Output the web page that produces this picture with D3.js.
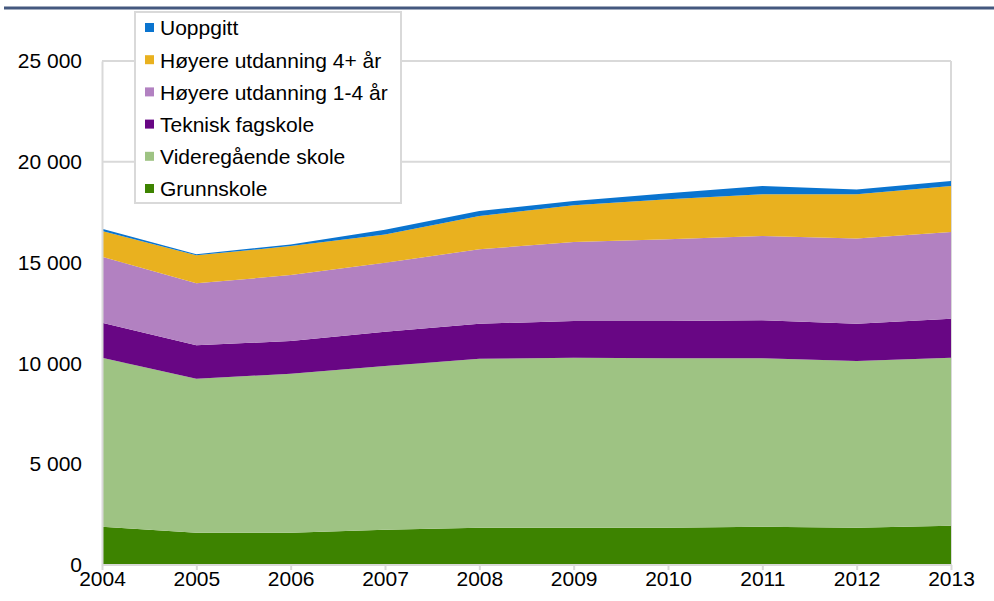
<!DOCTYPE html>
<html>
<head>
<meta charset="utf-8" />
<title>Utdanning</title>
<script src="https://d3js.org/d3.v7.min.js"></script>
<style>
  body { margin: 0; background: #fff; }
  text { font-family: "Liberation Sans", Arial, sans-serif; fill: #000; }
</style>
</head>
<body>
<svg class="chart"></svg>
<script>
var years = [2004, 2005, 2006, 2007, 2008, 2009, 2010, 2011, 2012, 2013];

// values, bottom layer first
var grunnskole     = [1900, 1600, 1600, 1750, 1850, 1850, 1850, 1900, 1850, 1950];
var videregaaende  = [8380, 7640, 7890, 8120, 8380, 8430, 8400, 8350, 8270, 8330];
var teknisk        = [1740, 1660, 1620, 1700, 1740, 1820, 1850, 1885, 1850, 1940];
var hoyere14       = [3270, 3070, 3270, 3425, 3690, 3920, 4055, 4185, 4230, 4300];
var hoyere4        = [1280, 1390, 1440, 1405, 1650, 1820, 1985, 2065, 2185, 2280];
var uoppgitt       = [110, 50, 80, 230, 250, 210, 295, 415, 245, 250];

var seriesNames = ["Grunnskole", "Videregående skole", "Teknisk fagskole",
                   "Høyere utdanning 1-4 år", "Høyere utdanning 4+ år", "Uoppgitt"];
var seriesValues = [grunnskole, videregaaende, teknisk, hoyere14, hoyere4, uoppgitt];
var colors = ["#3d8300", "#9ec383", "#680684", "#b281c1", "#e9b11f", "#0a74cf"];
var yTicks = [0, 5000, 10000, 15000, 20000, 25000];

var svgWidth = 994, svgHeight = 601;
var plot = {left: 102, right: 951, top: 61, bottom: 565};
var fontSize = 21;

var svg = d3.select(".chart")
    .attr("width", svgWidth)
    .attr("height", svgHeight);

// build rows for the stack
var rows = years.map(function (yr, i) {
    var r = {year: yr};
    seriesNames.forEach(function (n, k) { r[n] = seriesValues[k][i]; });
    return r;
});

var layers = d3.stack().keys(seriesNames)(rows);

var x = d3.scaleLinear().domain([2004, 2013]).range([plot.left, plot.right]);
var y = d3.scaleLinear().domain([0, 25000]).range([plot.bottom, plot.top]);

// header rule (title above is cropped away)
svg.append("line")
    .attr("x1", 4).attr("x2", svgWidth)
    .attr("y1", 8).attr("y2", 8)
    .attr("stroke", "#44587f")
    .attr("stroke-width", 3);

// gridlines
svg.append("g")
    .selectAll("line")
    .data(yTicks.filter(function (d) { return d > 0; }))
    .enter().append("line")
        .attr("x1", plot.left).attr("x2", plot.right)
        .attr("y1", function (d) { return y(d); })
        .attr("y2", function (d) { return y(d); })
        .attr("stroke", "#d9d9d9")
        .attr("stroke-width", 2);

svg.append("line")
    .attr("x1", plot.right).attr("x2", plot.right)
    .attr("y1", plot.top).attr("y2", plot.bottom)
    .attr("stroke", "#d9d9d9").attr("stroke-width", 2);

var area = d3.area()
    .x(function (d) { return x(d.data.year); })
    .y0(function (d) { return y(d[0]); })
    .y1(function (d) { return y(d[1]); });

svg.append("g")
    .selectAll("path")
    .data(layers)
    .enter().append("path")
        .attr("d", area)
        .attr("fill", function (d, i) { return colors[i]; });

// axes
var xAxis = d3.axisBottom(x)
    .tickValues(years)
    .tickFormat(d3.format("d"))
    .tickSize(5)
    .tickPadding(1);

var gx = svg.append("g")
    .attr("transform", "translate(0," + plot.bottom + ")")
    .call(xAxis);
gx.select(".domain").attr("stroke", "#d9d9d9").attr("stroke-width", 2)
    .attr("d", "M" + plot.left + ",0H" + plot.right);
gx.selectAll(".tick line").attr("stroke", "#d9d9d9").attr("stroke-width", 2);
gx.selectAll(".tick text")
    .attr("font-size", fontSize)
    .attr("font-family", "Liberation Sans, Arial, sans-serif")
    .attr("fill", "#000");

var yAxis = d3.axisLeft(y)
    .tickValues(yTicks)
    .tickFormat(function (d) { return d3.format(",")(d).replace(",", " "); })
    .tickSize(0)
    .tickPadding(20);

var gy = svg.append("g")
    .attr("transform", "translate(" + plot.left + ",0)")
    .call(yAxis);
gy.select(".domain").attr("stroke", "#d9d9d9").attr("stroke-width", 2);
gy.selectAll(".tick text")
    .attr("font-size", fontSize)
    .attr("font-family", "Liberation Sans, Arial, sans-serif")
    .attr("fill", "#000");

// legend, top entry first
var legend = svg.append("g").attr("transform", "translate(135,12)");
legend.append("rect")
    .attr("x", 0).attr("y", 0)
    .attr("width", 266).attr("height", 191)
    .attr("fill", "#fff")
    .attr("stroke", "#d9d9d9")
    .attr("stroke-width", 2);

var legendOrder = d3.range(seriesNames.length).reverse();
var item = legend.selectAll(".item")
    .data(legendOrder)
    .enter().append("g")
        .attr("class", "item")
        .attr("transform", function (d, i) { return "translate(10," + (16 + i * 32.2) + ")"; });

item.append("rect")
    .attr("x", 0).attr("y", -5)
    .attr("width", 9).attr("height", 9)
    .attr("fill", function (d) { return colors[d]; });

item.append("text")
    .attr("x", 15).attr("y", 0)
    .attr("dy", "0.35em")
    .attr("font-size", fontSize)
    .text(function (d) { return seriesNames[d]; });
</script>
</body>
</html>
